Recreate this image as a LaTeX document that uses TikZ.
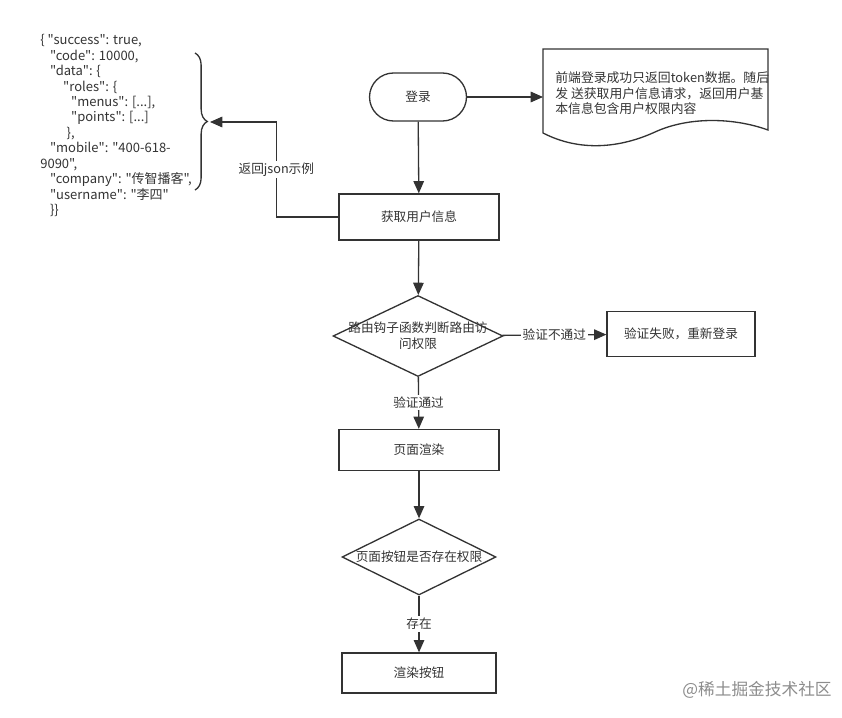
\documentclass[tikz,border=0pt]{standalone}
\usepackage{fontspec}
\setmainfont{Noto Sans CJK SC}[Ligatures=TeXOff]
\usetikzlibrary{arrows.meta,shapes.geometric,decorations.pathreplacing}
\begin{document}
\begin{tikzpicture}[x=0.02cm,y=-0.02cm,
		font=\fontsize{7.2}{9}\selectfont, text=black!80,
		line/.style={draw=black!80, line width=0.75pt},
		flow/.style={line, -{Triangle[length=7pt,width=6pt]}},
		box/.style={line, rectangle, minimum width=3.2cm, minimum height=0.92cm},
		decision/.style={line, diamond, inner sep=0pt, minimum width=#1},
		tag/.style={fill=white, inner sep=1pt}]
	\useasboundingbox (0,0) rectangle (842,717);
	% start and document note
	\node[line, rounded corners=0.48cm, minimum width=1.94cm, minimum height=0.96cm] (login) at (418,97) {登录};
	\draw[line] (543,49) -- (768,49) -- (768,130) .. controls (735,118) and (690,116) .. (655,132)
		.. controls (620,148) and (580,152) .. (543,133) -- cycle;
	\coordinate (docleft) at (543,97);
	\node[anchor=north west, align=left, inner sep=0pt, font=\fontsize{7.3}{9}\selectfont] (note) at (555,71)
		{前端登录成功只返回token数据。随后\\发 送获取用户信息请求，返回用户基\\本信息包含用户权限内容};
	% main flow
	\node[box] (userinfo) at (419,217) {获取用户信息};
	\node[decision=3.4cm, minimum height=1.62cm, label={[align=center]center:路由钩子函数判断路由访\\问权限}] (routecheck) at (418,336) {};
	\node[box, minimum width=2.96cm, minimum height=0.9cm] (fail) at (681,334) {验证失败，重新登录};
	\node[box, minimum height=0.82cm] (render) at (419,450) {页面渲染};
	\node[decision=3.08cm, minimum height=1.52cm, label={center:页面按钮是否存在权限}] (btncheck) at (419,557) {};
	\node[box, minimum width=3.08cm, minimum height=0.8cm] (btnrender) at (419,673) {渲染按钮};
	% returned json
	\node[anchor=north west, align=left, inner sep=0pt, font=\fontsize{7.4}{8.8}\selectfont] (json) at (40,34)
		{\{ "success": true,\\
		\hspace{5.5pt}"code": 10000,\\
		\hspace{5.5pt}"data": \{\\
		\hspace{13pt}"roles": \{\\
		\hspace{17.5pt}"menus": [...],\\
		\hspace{17.5pt}"points": [...]\\
		\hspace{15pt}\},\\
		\hspace{5.5pt}"mobile": "400-618-\\
		9090",\\
		\hspace{5.5pt}"company": "传智播客",\\
		\hspace{5.5pt}"username": "李四"\\
		\hspace{5.5pt}\}\}};
	\draw[line, decorate, decoration={brace, amplitude=7pt}] (195,53) -- (195,190);
	\coordinate (jsontip) at (210,122);
	% connectors
	\draw[flow] (login) -- (docleft);
	\draw[flow] (login) -- (userinfo);
	\draw[flow] (userinfo.west) -- ++(-62,0) |- (jsontip) node[tag, pos=0.25] {返回json示例};
	\draw[flow] (userinfo) -- (routecheck);
	\draw[flow] (routecheck) -- (fail) node[tag, midway] {验证不通过};
	\draw[flow] (routecheck) -- (render) node[tag, midway] {验证通过};
	\draw[flow] (render) -- (btncheck);
	\draw[flow] (btncheck) -- (btnrender) node[tag, midway] {存在};
	\node[text=black!45, font=\fontsize{9.5}{11}\selectfont] (mark) at (757,690) {@稀土掘金技术社区};
\end{tikzpicture}
\end{document}
